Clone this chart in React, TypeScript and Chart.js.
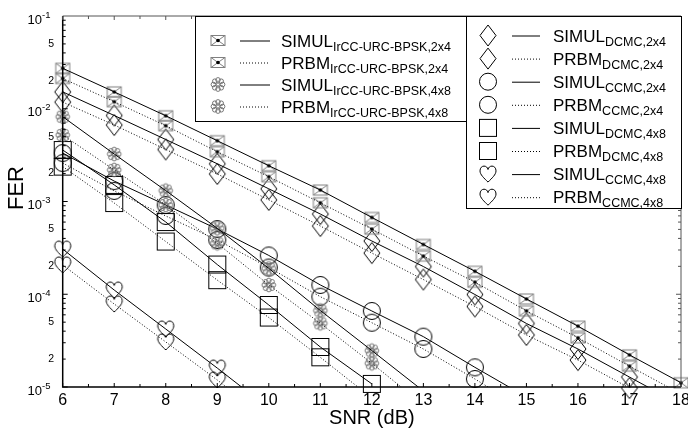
import React, { useEffect, useRef } from "react";
import { Chart, registerables } from "chart.js";
Chart.register(...registerables);

const snr = [6, 7, 8, 9, 10, 11, 12, 13, 14, 15, 16, 17, 18];
const yTickDecades = [-1, -2, -3, -4, -5];
const yMinorLabels = [5, 2];

const simulIrcc24 = [2.73e-2, 1.52e-2, 8.4e-3, 4.52e-3, 2.43e-3, 1.33e-3, 6.73e-4, 3.44e-4, 1.77e-4, 8.9e-5, 4.53e-5, 2.22e-5, 1.11e-5];
const prbmIrcc24 = [2.12e-2, 1.19e-2, 6.56e-3, 3.44e-3, 1.85e-3, 9.68e-4, 5.04e-4, 2.58e-4, 1.35e-4, 6.62e-5, 3.39e-5, 1.68e-5, 8.4e-6];
const simulIrcc48 = [8.21e-3, 3.25e-3, 1.31e-3, 5.14e-4, 1.9e-4, 6.68e-5, 2.47e-5, 9.05e-6];
const prbmIrcc48 = [5.21e-3, 2.19e-3, 9.17e-4, 3.54e-4, 1.26e-4, 4.86e-5, 1.8e-5, 6.4e-6];
const simulDcmc24 = [1.52e-2, 8.46e-3, 4.66e-3, 2.55e-3, 1.37e-3, 7.33e-4, 3.75e-4, 1.99e-4, 9.94e-5, 4.84e-5, 2.57e-5, 1.28e-5, 6.4e-6];
const prbmDcmc24 = [1.18e-2, 6.68e-3, 3.64e-3, 1.98e-3, 1.04e-3, 5.44e-4, 2.78e-4, 1.44e-4, 7.38e-5, 3.64e-5, 1.95e-5, 9.75e-6, 5e-6];
const simulCcmc24 = [3.33e-3, 1.66e-3, 9.17e-4, 5.05e-4, 2.62e-4, 1.26e-4, 6.6e-5, 3.49e-5, 1.63e-5, 7.8e-6];
const prbmCcmc24 = [2.6e-3, 1.3e-3, 6.98e-4, 3.85e-4, 1.94e-4, 9.41e-5, 4.93e-5, 2.57e-5, 1.22e-5, 5.6e-6];
const simulDcmc48 = [3.59e-3, 1.51e-3, 6.01e-4, 2.09e-4, 7.66e-5, 2.7e-5, 1.08e-5];
const prbmDcmc48 = [2.38e-3, 9.63e-4, 3.7e-4, 1.42e-4, 5.61e-5, 2.09e-5, 7.6e-6];
const simulCcmc48 = [3.07e-4, 1.11e-4, 4.22e-5, 1.6e-5, 5.9e-6];
const prbmCcmc48 = [2.07e-4, 7.85e-5, 3.06e-5, 1.19e-5, 4.4e-6];

type Series = { name: string; sub: string; values: number[]; marker: string; dotted: boolean; legend: number };

const seriesList: Series[] = [
  { name: "SIMUL", sub: "IrCC-URC-BPSK,2x4", values: simulIrcc24, marker: "sqx", dotted: false, legend: 0 },
  { name: "PRBM", sub: "IrCC-URC-BPSK,2x4", values: prbmIrcc24, marker: "sqx", dotted: true, legend: 0 },
  { name: "SIMUL", sub: "IrCC-URC-BPSK,4x8", values: simulIrcc48, marker: "flower", dotted: false, legend: 0 },
  { name: "PRBM", sub: "IrCC-URC-BPSK,4x8", values: prbmIrcc48, marker: "flower", dotted: true, legend: 0 },
  { name: "SIMUL", sub: "DCMC,2x4", values: simulDcmc24, marker: "diamond", dotted: false, legend: 1 },
  { name: "PRBM", sub: "DCMC,2x4", values: prbmDcmc24, marker: "diamond", dotted: true, legend: 1 },
  { name: "SIMUL", sub: "CCMC,2x4", values: simulCcmc24, marker: "circle", dotted: false, legend: 1 },
  { name: "PRBM", sub: "CCMC,2x4", values: prbmCcmc24, marker: "circle", dotted: true, legend: 1 },
  { name: "SIMUL", sub: "DCMC,4x8", values: simulDcmc48, marker: "square", dotted: false, legend: 1 },
  { name: "PRBM", sub: "DCMC,4x8", values: prbmDcmc48, marker: "square", dotted: true, legend: 1 },
  { name: "SIMUL", sub: "CCMC,4x8", values: simulCcmc48, marker: "heart", dotted: false, legend: 1 },
  { name: "PRBM", sub: "CCMC,4x8", values: prbmCcmc48, marker: "heart", dotted: true, legend: 1 },
];

const FONT = "'Liberation Sans', Arial, sans-serif";
const DOT: number[] = [1, 2];

function drawShape(ctx: CanvasRenderingContext2D, kind: string) {
  ctx.lineWidth = 1;
  ctx.strokeStyle = "#000";
  if (kind === "sqx") {
    ctx.strokeStyle = "#808080";
    ctx.strokeRect(-7, -5, 14, 10);
    ctx.beginPath();
    ctx.moveTo(-7, -5); ctx.lineTo(7, 5);
    ctx.moveTo(7, -5); ctx.lineTo(-7, 5);
    ctx.stroke();
    ctx.fillStyle = "#000";
    ctx.beginPath(); ctx.arc(0, 0, 1.8, 0, Math.PI * 2); ctx.fill();
  } else if (kind === "flower") {
    ctx.strokeStyle = "#6a6a6a";
    ctx.lineWidth = 0.9;
    for (let i = 0; i < 8; i++) {
      const a = (i * Math.PI * 2) / 8;
      ctx.beginPath();
      ctx.arc(Math.cos(a) * 4.6, Math.sin(a) * 4.6, 2.3, 0, Math.PI * 2);
      ctx.stroke();
    }
    ctx.beginPath(); ctx.arc(0, 0, 1.6, 0, Math.PI * 2); ctx.stroke();
  } else if (kind === "diamond") {
    ctx.beginPath();
    ctx.moveTo(0, -10.5); ctx.lineTo(8, 0); ctx.lineTo(0, 10.5); ctx.lineTo(-8, 0); ctx.closePath();
    ctx.stroke();
  } else if (kind === "circle") {
    ctx.beginPath(); ctx.arc(0, 0, 8.5, 0, Math.PI * 2); ctx.stroke();
  } else if (kind === "square") {
    ctx.strokeRect(-8.5, -8.5, 17, 17);
  } else if (kind === "heart") {
    ctx.beginPath();
    ctx.moveTo(0, 8);
    ctx.bezierCurveTo(-4, 4, -8, 0.5, -8, -3.2);
    ctx.bezierCurveTo(-8, -6.4, -6, -8, -4, -8);
    ctx.bezierCurveTo(-2, -8, -0.5, -6.8, 0, -4.6);
    ctx.bezierCurveTo(0.5, -6.8, 2, -8, 4, -8);
    ctx.bezierCurveTo(6, -8, 8, -6.4, 8, -3.2);
    ctx.bezierCurveTo(8, 0.5, 4, 4, 0, 8);
    ctx.stroke();
  }
}

function makeMarker(kind: string): HTMLCanvasElement {
  const c = document.createElement("canvas");
  const w = 20;
  const h = kind === "diamond" ? 24 : 20;
  c.width = w; c.height = h;
  const ctx = c.getContext("2d")!;
  ctx.translate(w / 2, h / 2);
  drawShape(ctx, kind);
  return c;
}

function drawSub(ctx: CanvasRenderingContext2D, x: number, yc: number, main: string, sub: string) {
  ctx.fillStyle = "#000";
  ctx.textAlign = "left";
  ctx.textBaseline = "alphabetic";
  ctx.font = `17px ${FONT}`;
  ctx.fillText(main, x, yc + 6);
  const w = ctx.measureText(main).width;
  ctx.font = `12.5px ${FONT}`;
  ctx.fillText(sub, x + w, yc + 10);
}

const framePlugin = {
  id: "framePlugin",
  afterDraw(chart: any) {
    const ctx: CanvasRenderingContext2D = chart.ctx;
    const a = chart.chartArea;
    const xs = chart.scales.x;
    const ys = chart.scales.y;
    ctx.save();
    ctx.lineWidth = 1;
    ctx.strokeStyle = "#555";
    ctx.beginPath();
    ctx.moveTo(a.left, a.top); ctx.lineTo(a.right, a.top); ctx.lineTo(a.right, a.bottom);
    ctx.stroke();
    ctx.strokeStyle = "#000";
    ctx.lineWidth = 1.5;
    ctx.beginPath();
    ctx.moveTo(a.left, a.top); ctx.lineTo(a.left, a.bottom); ctx.lineTo(a.right, a.bottom);
    ctx.stroke();
    ctx.lineWidth = 1;
    for (let v = 6; v <= 18.001; v += 0.5) {
      const px = xs.getPixelForValue(v);
      const len = Number.isInteger(v) ? 4 : 3;
      ctx.strokeStyle = "#000";
      ctx.beginPath(); ctx.moveTo(px, a.bottom); ctx.lineTo(px, a.bottom - len); ctx.stroke();
      ctx.strokeStyle = "#555";
      ctx.beginPath(); ctx.moveTo(px, a.top); ctx.lineTo(px, a.top + len); ctx.stroke();
    }
    for (let d = -5; d <= -2; d++) {
      for (let m = 1; m <= 9; m++) {
        const py = ys.getPixelForValue(m * Math.pow(10, d));
        const len = m === 1 ? 5 : 3;
        ctx.strokeStyle = "#000";
        ctx.beginPath(); ctx.moveTo(a.left, py); ctx.lineTo(a.left + len, py); ctx.stroke();
        ctx.strokeStyle = "#555";
        ctx.beginPath(); ctx.moveTo(a.right, py); ctx.lineTo(a.right - len, py); ctx.stroke();
      }
    }
    ctx.fillStyle = "#000";
    ctx.font = `16px ${FONT}`;
    ctx.textAlign = "center";
    ctx.textBaseline = "middle";
    snr.forEach((v) => ctx.fillText(String(v), xs.getPixelForValue(v), a.bottom + 14));
    yTickDecades.forEach((d) => {
      const py = ys.getPixelForValue(Math.pow(10, d));
      ctx.font = `13px ${FONT}`;
      ctx.textAlign = "right";
      ctx.textBaseline = "middle";
      ctx.fillText("10", 42, py + 4);
      ctx.font = `9.5px ${FONT}`;
      ctx.textAlign = "left";
      ctx.fillText(String(d), 42, py - 1);
      if (d > -5) {
        yMinorLabels.forEach((m) => {
          const pm = ys.getPixelForValue(m * Math.pow(10, d - 1));
          ctx.font = `10.5px ${FONT}`;
          ctx.textAlign = "right";
          ctx.fillText(String(m), 54, pm);
        });
      }
    });
    ctx.font = `20px ${FONT}`;
    ctx.textAlign = "center";
    ctx.textBaseline = "middle";
    ctx.fillText("SNR (dB)", (a.left + a.right) / 2, 418);
    ctx.save();
    ctx.translate(17, 188);
    ctx.rotate(-Math.PI / 2);
    ctx.font = `22px ${FONT}`;
    ctx.fillText("FER", 0, 0);
    ctx.restore();

    const boxes = [
      { x: 195, y: a.top, w: 271, h: 105, mx: 218, lx0: 240, lx1: 270, tx: 281, y0: 40.5, dy: 22 },
      { x: 466, y: a.top, w: a.right - 466, h: 192, mx: 488, lx0: 512, lx1: 540, tx: 553, y0: 35.5, dy: 23.1 },
    ];
    boxes.forEach((b, bi) => {
      ctx.fillStyle = "#fff";
      ctx.fillRect(b.x, b.y, b.w, b.h);
      ctx.strokeStyle = "#000";
      ctx.lineWidth = 1;
      ctx.setLineDash([]);
      ctx.strokeRect(b.x + 0.5, b.y + 0.5, b.w, b.h);
      const items = seriesList.filter((s) => s.legend === bi);
      items.forEach((s, i) => {
        const yc = b.y0 + i * b.dy;
        ctx.save();
        ctx.translate(b.mx, yc);
        drawShape(ctx, s.marker);
        ctx.restore();
        ctx.strokeStyle = "#000";
        ctx.lineWidth = 1;
        ctx.setLineDash(s.dotted ? DOT : []);
        ctx.beginPath(); ctx.moveTo(b.lx0, yc + 0.5); ctx.lineTo(b.lx1, yc + 0.5); ctx.stroke();
        ctx.setLineDash([]);
        drawSub(ctx, b.tx, yc, s.name, s.sub);
      });
    });
    ctx.restore();
  },
};

export default function App() {
  const ref = useRef<HTMLCanvasElement | null>(null);
  useEffect(() => {
    if (!ref.current) return;
    const datasets: any[] = [];
    seriesList.forEach((s) => {
      const data = s.values.map((v, i) => ({ x: snr[i], y: v }));
      datasets.push({
        data,
        borderColor: "#000",
        borderWidth: 1,
        borderDash: s.dotted ? DOT : [],
        pointRadius: 0,
        fill: false,
        tension: 0,
      });
      datasets.push({
        data,
        showLine: false,
        pointStyle: makeMarker(s.marker),
        pointRadius: (c: any) => (c.raw && c.raw.y >= 9.5e-6 ? 10 : 0),
        clip: false,
      });
    });
    const chart = new Chart(ref.current, {
      type: "line",
      data: { datasets },
      options: {
        animation: false,
        responsive: false,
        maintainAspectRatio: false,
        devicePixelRatio: 1,
        events: [],
        layout: { autoPadding: false, padding: { left: 62.7, right: 7, top: 16, bottom: 43 } },
        plugins: { legend: { display: false }, tooltip: { enabled: false } },
        scales: {
          x: { type: "linear", min: 6, max: 18, display: false },
          y: { type: "logarithmic", min: 1e-5, max: 1e-1, display: false },
        },
      },
      plugins: [framePlugin],
    } as any);
    return () => chart.destroy();
  }, []);
  return (
    <div style={{ position: "fixed", left: 0, top: 0, width: 688, height: 430, background: "#fff" }}>
      <canvas ref={ref} width={688} height={430} style={{ display: "block", width: 688, height: 430 }} />
    </div>
  );
}
